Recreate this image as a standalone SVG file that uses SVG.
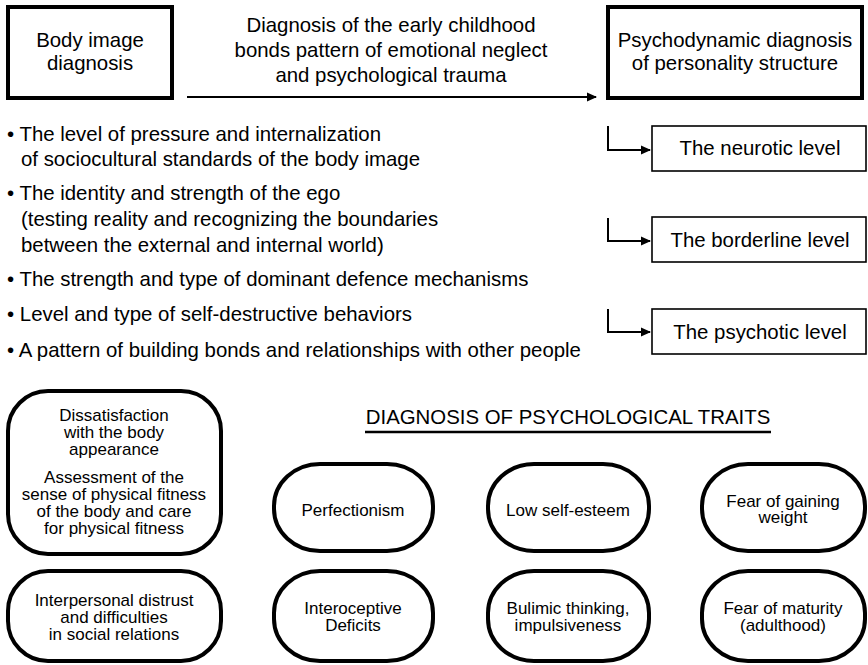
<svg xmlns="http://www.w3.org/2000/svg" width="868" height="665" viewBox="0 0 868 665">
<style>
text{font-family:"Liberation Sans",Arial,sans-serif;fill:#000}
.t20{font-size:20.4px}
.c{text-anchor:middle}
.s17{font-size:17px;text-anchor:middle}
.thick{fill:#fff;stroke:#000;stroke-width:4}
.thin{fill:#fff;stroke:#000;stroke-width:1.6}
.ln{fill:none;stroke:#000;stroke-width:2}
</style>
<defs>
<marker id="ah" markerWidth="10" markerHeight="10" refX="9" refY="5" orient="auto" markerUnits="userSpaceOnUse">
<path d="M0,0.5 L10,5 L0,9.5 Z" fill="#000"/>
</marker>
</defs>
<g id="connectors">
<line class="ln" x1="187" y1="97" x2="596" y2="97" marker-end="url(#ah)"/>
<polyline class="ln" points="608,126 608,150 650,150" marker-end="url(#ah)"/>
<polyline class="ln" points="608,218 608,241 650,241" marker-end="url(#ah)"/>
<polyline class="ln" points="608,309 608,332 650,332" marker-end="url(#ah)"/>
</g>
<g id="body-image">
<rect class="thick" x="8" y="7" width="164" height="91"/>
<text class="t20 c" x="90" y="47">Body image</text>
<text class="t20 c" x="90" y="70">diagnosis</text>
</g>
<g id="early-bonds">
<text class="t20 c" x="391" y="32">Diagnosis of the early childhood</text>
<text class="t20 c" x="391" y="57">bonds pattern of emotional neglect</text>
<text class="t20 c" x="391" y="82">and psychological trauma</text>
</g>
<g id="psychodynamic">
<rect class="thick" x="608" y="7" width="254" height="91"/>
<text class="t20 c" x="735" y="47">Psychodynamic diagnosis</text>
<text class="t20 c" x="735" y="70">of personality structure</text>
</g>
<g id="bullets" class="t20">
<text x="7" y="141">• The level of pressure and internalization</text>
<text x="21" y="166">of sociocultural standards of the body image</text>
<text x="7" y="200">• The identity and strength of the ego</text>
<text x="21" y="226">(testing reality and recognizing the boundaries</text>
<text x="21" y="252">between the external and internal world)</text>
<text x="7" y="286">• The strength and type of dominant defence mechanisms</text>
<text x="7" y="321">• Level and type of self-destructive behaviors</text>
<text x="7" y="357">• A pattern of building bonds and relationships with other people</text>
</g>
<g id="neurotic">
<rect class="thin" x="652" y="126" width="214" height="45"/>
<text class="t20 c" x="760" y="155">The neurotic level</text>
</g>
<g id="borderline">
<rect class="thin" x="652" y="217" width="214" height="45"/>
<text class="t20 c" x="760" y="247">The borderline level</text>
</g>
<g id="psychotic">
<rect class="thin" x="652" y="309" width="214" height="45"/>
<text class="t20 c" x="760" y="339">The psychotic level</text>
</g>
<g id="heading">
<text class="t20 c" x="568" y="424">DIAGNOSIS OF PSYCHOLOGICAL TRAITS</text>
<line x1="365" y1="432" x2="771" y2="432" stroke="#000" stroke-width="2.5"/>
</g>
<g id="body-dissatisfaction">
<rect class="thick" x="8" y="391" width="213" height="163" rx="40" ry="40"/>
<text class="s17" x="114" y="421">Dissatisfaction</text>
<text class="s17" x="114" y="438">with the body</text>
<text class="s17" x="114" y="455">appearance</text>
<text class="s17" x="114" y="483">Assessment of the</text>
<text class="s17" x="114" y="500">sense of physical fitness</text>
<text class="s17" x="114" y="517">of the body and care</text>
<text class="s17" x="114" y="534">for physical fitness</text>
</g>
<g id="interpersonal">
<rect class="thick" x="8" y="571" width="213" height="90" rx="40" ry="40"/>
<text class="s17" x="114" y="606">Interpersonal distrust</text>
<text class="s17" x="114" y="623">and difficulties</text>
<text class="s17" x="114" y="640">in social relations</text>
</g>
<g id="perfectionism">
<rect class="thick" x="274" y="464" width="159" height="87" rx="46" ry="42"/>
<text class="s17" x="353" y="516">Perfectionism</text>
</g>
<g id="low-self-esteem">
<rect class="thick" x="488" y="464" width="161" height="87" rx="46" ry="42"/>
<text class="s17" x="568" y="516">Low self-esteem</text>
</g>
<g id="fear-weight">
<rect class="thick" x="702" y="464" width="163" height="87" rx="46" ry="42"/>
<text class="s17" x="783" y="507">Fear of gaining</text>
<text class="s17" x="783" y="523">weight</text>
</g>
<g id="interoceptive">
<rect class="thick" x="274" y="571" width="159" height="90" rx="46" ry="42"/>
<text class="s17" x="353" y="614">Interoceptive</text>
<text class="s17" x="353" y="631">Deficits</text>
</g>
<g id="bulimic">
<rect class="thick" x="488" y="571" width="161" height="90" rx="46" ry="42"/>
<text class="s17" x="568" y="614">Bulimic thinking,</text>
<text class="s17" x="568" y="631">impulsiveness</text>
</g>
<g id="fear-maturity">
<rect class="thick" x="702" y="571" width="163" height="90" rx="46" ry="42"/>
<text class="s17" x="783" y="614">Fear of maturity</text>
<text class="s17" x="783" y="631">(adulthood)</text>
</g>
</svg>
